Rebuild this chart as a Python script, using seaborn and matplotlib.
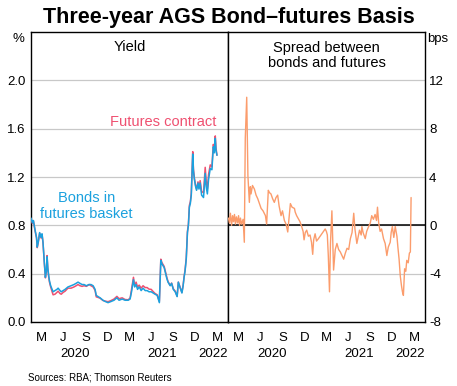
import pandas as pd
import seaborn as sns
import matplotlib.pyplot as plt
import matplotlib.dates as mdates
import matplotlib.transforms as mtransforms

# Yield panel (per cent)
yield_dates = ['2020-01-01', '2020-01-07', '2020-01-11', '2020-01-18', '2020-01-24', '2020-01-27', '2020-01-31',
               '2020-02-06', '2020-02-12', '2020-02-16', '2020-02-20', '2020-02-23', '2020-02-26', '2020-03-01',
               '2020-03-05', '2020-03-08', '2020-03-11', '2020-03-15', '2020-03-18', '2020-03-23', '2020-03-29',
               '2020-04-02', '2020-04-10', '2020-04-18', '2020-04-23', '2020-05-01', '2020-05-06', '2020-05-14',
               '2020-05-22', '2020-06-03', '2020-06-16', '2020-06-28', '2020-07-07', '2020-07-15', '2020-07-23',
               '2020-08-01', '2020-08-09', '2020-08-19', '2020-08-30', '2020-09-07', '2020-09-16', '2020-09-24',
               '2020-09-29', '2020-10-07', '2020-10-15', '2020-10-27', '2020-11-05', '2020-11-17', '2020-11-30',
               '2020-12-12', '2020-12-24', '2021-01-02', '2021-01-15', '2021-01-27', '2021-02-09', '2021-02-17',
               '2021-02-23', '2021-03-03', '2021-03-08', '2021-03-14', '2021-03-20', '2021-03-27', '2021-04-04',
               '2021-04-12', '2021-04-21', '2021-04-29', '2021-05-07', '2021-05-16', '2021-05-24', '2021-06-01',
               '2021-06-10', '2021-06-19', '2021-06-25', '2021-06-30', '2021-07-09', '2021-07-20', '2021-07-25',
               '2021-08-03', '2021-08-09', '2021-08-16', '2021-08-24', '2021-09-01', '2021-09-06', '2021-09-14',
               '2021-09-21', '2021-09-26', '2021-09-30', '2021-10-04', '2021-10-09', '2021-10-14', '2021-10-18',
               '2021-10-22', '2021-10-26', '2021-10-30', '2021-11-05', '2021-11-08', '2021-11-12', '2021-11-17',
               '2021-11-21', '2021-11-27', '2021-12-01', '2021-12-06', '2021-12-12', '2021-12-20', '2021-12-27',
               '2021-12-31', '2022-01-05', '2022-01-10', '2022-01-17', '2022-01-24', '2022-01-27', '2022-01-30',
               '2022-02-03', '2022-02-07', '2022-02-10', '2022-02-14']

bonds = [0.86, 0.82, 0.84, 0.76, 0.70, 0.62, 0.66, 0.74, 0.70, 0.73,
         0.66, 0.57, 0.48, 0.37, 0.42, 0.54, 0.45, 0.38, 0.34, 0.30,
         0.27, 0.25, 0.26, 0.27, 0.28, 0.26, 0.25, 0.26, 0.27, 0.29,
         0.30, 0.31, 0.32, 0.33, 0.32, 0.31, 0.31, 0.30, 0.31, 0.31,
         0.30, 0.27, 0.22, 0.21, 0.20, 0.18, 0.17, 0.16, 0.17, 0.18,
         0.20, 0.18, 0.19, 0.18, 0.18, 0.19, 0.25, 0.35, 0.29, 0.31,
         0.27, 0.29, 0.26, 0.28, 0.26, 0.26, 0.25, 0.25, 0.24, 0.23,
         0.22, 0.16, 0.51, 0.48, 0.45, 0.36, 0.33, 0.30, 0.32, 0.27,
         0.25, 0.21, 0.33, 0.28, 0.24, 0.30, 0.37, 0.42, 0.52, 0.74,
         0.80, 0.95, 0.98, 1.05, 1.39, 1.25, 1.18, 1.12, 1.09, 1.15,
         1.10, 1.15, 1.05, 1.03, 1.23, 1.12, 1.06, 1.18, 1.27, 1.26,
         1.36, 1.45, 1.40, 1.52, 1.42, 1.38]

futures = [0.855, 0.815, 0.835, 0.755, 0.695, 0.615, 0.655, 0.735, 0.695, 0.725,
           0.655, 0.565, 0.475, 0.365, 0.415, 0.55, 0.44, 0.37, 0.33, 0.29,
           0.25, 0.225, 0.23, 0.245, 0.255, 0.235, 0.23, 0.245, 0.255, 0.28,
           0.28, 0.29, 0.30, 0.31, 0.30, 0.295, 0.30, 0.295, 0.31, 0.30,
           0.29, 0.262, 0.208, 0.203, 0.197, 0.178, 0.173, 0.168, 0.178, 0.19,
           0.212, 0.193, 0.20, 0.186, 0.184, 0.198, 0.27, 0.37, 0.30, 0.33,
           0.29, 0.305, 0.28, 0.30, 0.285, 0.285, 0.272, 0.27, 0.252, 0.236,
           0.225, 0.17, 0.52, 0.49, 0.46, 0.37, 0.335, 0.303, 0.322, 0.275,
           0.255, 0.213, 0.33, 0.285, 0.245, 0.305, 0.375, 0.43, 0.53, 0.75,
           0.81, 0.965, 0.995, 1.065, 1.41, 1.265, 1.19, 1.13, 1.10, 1.16,
           1.11, 1.17, 1.08, 1.07, 1.28, 1.17, 1.10, 1.22, 1.30, 1.285,
           1.385, 1.47, 1.42, 1.54, 1.44, 1.38]

# Spread panel (bps)
spread_dates = ['2020-01-03', '2020-01-07', '2020-01-11', '2020-01-16', '2020-01-20', '2020-01-24', '2020-01-28',
                '2020-02-01', '2020-02-05', '2020-02-10', '2020-02-14', '2020-02-18', '2020-02-22', '2020-02-26',
                '2020-03-04', '2020-03-09', '2020-03-13', '2020-03-19', '2020-03-24', '2020-03-30', '2020-04-03',
                '2020-04-06', '2020-04-12', '2020-04-20', '2020-04-27', '2020-05-04', '2020-05-11', '2020-05-18',
                '2020-05-26', '2020-06-05', '2020-06-10', '2020-06-17', '2020-06-22', '2020-06-28', '2020-07-05',
                '2020-07-12', '2020-07-19', '2020-07-26', '2020-08-01', '2020-08-09', '2020-08-15', '2020-08-23',
                '2020-08-30', '2020-09-06', '2020-09-11', '2020-09-17', '2020-09-24', '2020-10-04', '2020-10-07',
                '2020-10-13', '2020-10-20', '2020-10-27', '2020-11-03', '2020-11-09', '2020-11-13', '2020-11-18',
                '2020-11-24', '2020-12-01', '2020-12-08', '2020-12-14', '2020-12-19', '2020-12-23', '2020-12-29',
                '2021-01-04', '2021-01-12', '2021-01-19', '2021-01-26', '2021-02-02', '2021-02-09', '2021-02-14',
                '2021-02-18', '2021-02-22', '2021-02-27', '2021-03-03', '2021-03-09', '2021-03-12', '2021-03-16',
                '2021-03-23', '2021-03-30', '2021-04-06', '2021-04-13', '2021-04-20', '2021-04-27', '2021-05-04',
                '2021-05-11', '2021-05-18', '2021-05-25', '2021-06-01', '2021-06-08', '2021-06-13', '2021-06-21',
                '2021-06-26', '2021-07-02', '2021-07-09', '2021-07-12', '2021-07-17', '2021-07-26', '2021-08-01',
                '2021-08-07', '2021-08-16', '2021-08-22', '2021-08-29', '2021-09-05', '2021-09-11', '2021-09-15',
                '2021-09-20', '2021-09-26', '2021-10-02', '2021-10-10', '2021-10-17', '2021-10-24', '2021-10-30',
                '2021-11-07', '2021-11-11', '2021-11-16', '2021-11-22', '2021-11-28', '2021-12-05', '2021-12-09',
                '2021-12-14', '2021-12-19', '2021-12-24', '2021-12-28', '2022-01-01', '2022-01-06', '2022-01-11',
                '2022-01-15', '2022-01-21', '2022-01-26', '2022-01-30', '2022-02-02']

spread = [0.6, 0.2, 1.0, 0.0, 0.8, 0.3, 0.9, 0.1, 0.7, 0.2,
          0.8, 0.0, 0.6, 0.1, 0.5, -1.4, 7.2, 10.6, 4.1, 1.9,
          3.2, 2.6, 3.3, 3.0, 2.5, 2.2, 1.8, 1.4, 1.2, 0.8,
          0.1, 2.9, 2.7, 2.6, 2.2, 1.9, 2.3, 2.5, 1.6, 0.8,
          1.2, 0.4, 0.1, -0.55, 0.5, 1.8, 1.5, 1.4, 1.1, 0.8,
          0.55, 0.3, -0.1, -0.5, -1.2, -0.6, -0.4, -0.9, -0.8, -1.4,
          -2.4, -1.2, -0.7, -1.3, -1.1, -0.9, -0.7, -0.5, -0.3, -0.5,
          -0.8, -2.5, -5.5, -1.5, 1.2, -1.0, -3.7, -2.0, -1.5, -2.0,
          -2.2, -2.5, -2.8, -2.3, -1.9, -2.0, -1.1, -0.6, 1.0, -0.3,
          -1.5, -1.0, -0.4, -0.8, -0.1, -0.6, -1.1, -0.5, -0.2, 0.2,
          0.8, 0.5, 0.9, 0.4, 1.5, 0.2, -0.5, -0.3, -1.1, -1.5,
          -2.5, -1.8, -1.4, -0.6, -0.1, -1.0, -0.1, -0.9, -1.8, -2.8,
          -4.2, -5.0, -5.5, -5.8, -3.6, -3.8, -2.9, -3.1, -2.3, -2.2,
          2.3]

month_letters = ['M', 'J', 'S', 'D', 'M', 'J', 'S', 'D', 'M']
years = ['2020', '2021', '2022']

red = '#ef5070'
blue = '#1ba1de'
orange = '#fb9c6c'

yld = pd.DataFrame({'date': pd.to_datetime(yield_dates), 'bonds': bonds, 'futures': futures})
spr = pd.DataFrame({'date': pd.to_datetime(spread_dates), 'spread': spread})

sns.set_style('white')
plt.rcParams['font.family'] = ['Liberation Sans', 'DejaVu Sans']
plt.rcParams['text.color'] = 'black'
plt.rcParams['xtick.color'] = 'black'
plt.rcParams['ytick.color'] = 'black'

fig = plt.figure(figsize=(4.57, 3.86), dpi=100)
ax1 = fig.add_axes([31 / 457, 64 / 386, 197 / 457, 290 / 386])
ax2 = fig.add_axes([228 / 457, 64 / 386, 197 / 457, 290 / 386])

sns.lineplot(data=yld, x='date', y='futures', ax=ax1, color=red, lw=1.1, zorder=3)
sns.lineplot(data=yld, x='date', y='bonds', ax=ax1, color=blue, lw=1.1, zorder=4)
ax2.axhline(0, color='black', lw=1.1, zorder=2)
sns.lineplot(data=spr, x='date', y='spread', ax=ax2, color=orange, lw=1.0, zorder=3)

major = pd.date_range('2020-04-01', '2022-01-01', freq='QS')
minor = pd.to_datetime(['2020-02-15', '2020-05-16', '2020-08-16', '2020-11-15', '2021-02-15',
                        '2021-05-16', '2021-08-16', '2021-11-15', '2022-02-14'])
year_pos = pd.to_datetime(['2020-07-01', '2021-07-01', '2022-01-28'])

for ax in (ax1, ax2):
    ax.set_xlim(pd.Timestamp('2020-01-01'), pd.Timestamp('2022-04-01'))
    ax.set_xlabel('')
    ax.set_ylabel('')
    ax.set_xticks(major)
    ax.set_xticks(minor, minor=True)
    ax.set_xticklabels([], minor=False)
    ax.set_xticklabels(month_letters, minor=True)
    ax.tick_params(axis='x', which='major', direction='in', length=5, width=1, color='black')
    ax.tick_params(axis='x', which='minor', length=0, pad=7, labelsize=9.5)
    ax.tick_params(axis='y', length=0, labelsize=9.5)
    ax.grid(axis='y', color='#c8c8c8', lw=0.9)
    ax.grid(axis='x', visible=False)
    ax.set_axisbelow(True)
    for s in ax.spines.values():
        s.set_color('black')
        s.set_linewidth(1)
    trans = mtransforms.blended_transform_factory(ax.transData, ax.transAxes)
    for d, yr in zip(year_pos, years):
        ax.text(mdates.date2num(d), -0.112, yr, transform=trans, ha='center', va='center', fontsize=9.5)

ax1.set_ylim(0, 2.4)
ax1.set_yticks([0, 0.4, 0.8, 1.2, 1.6, 2.0])
ax1.set_yticklabels(['0.0', '0.4', '0.8', '1.2', '1.6', '2.0'])
ax1.tick_params(axis='y', pad=4)
ax1.text(-0.035, 0.995, '%', transform=ax1.transAxes, ha='right', va='top', fontsize=9.5)

ax2.set_ylim(-8, 16)
ax2.set_yticks([-8, -4, 0, 4, 8, 12])
ax2.set_yticklabels(['-8', '-4', '0', '4', '8', '12'])
ax2.yaxis.tick_right()
ax2.tick_params(axis='y', pad=3)
ax2.text(1.012, 0.995, 'bps', transform=ax2.transAxes, ha='left', va='top', fontsize=9.5)

ax1.text(0.5, 0.948, 'Yield', transform=ax1.transAxes, ha='center', va='center', fontsize=10.5)
ax2.text(0.5, 0.919, 'Spread between\nbonds and futures', transform=ax2.transAxes,
         ha='center', va='center', fontsize=10.5, linespacing=1.15)
ax1.text(0.67, 0.69, 'Futures contract', transform=ax1.transAxes, ha='center', va='center',
         fontsize=10.5, color=red)
ax1.text(0.28, 0.40, 'Bonds in\nfutures basket', transform=ax1.transAxes, ha='center', va='center',
         fontsize=10.5, color=blue, linespacing=1.2)

fig.text(0.5, 1 - 18 / 386, 'Three-year AGS Bond\u2013futures Basis', ha='center', va='center',
         fontsize=15.5, fontweight='bold')
fig.text(28 / 457, 1 - 378 / 386, 'Sources: RBA; Thomson Reuters', ha='left', va='center', fontsize=7)

fig.savefig('out.png', dpi=100)
